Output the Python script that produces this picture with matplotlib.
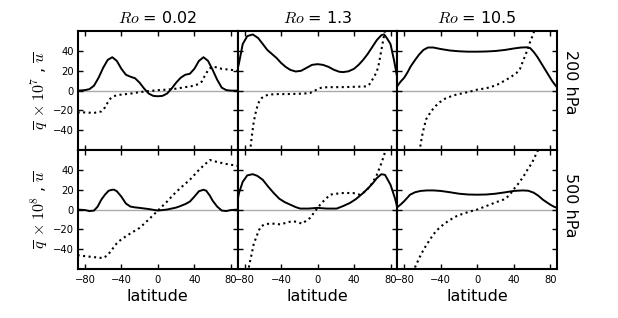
import matplotlib
matplotlib.use("Agg")
import matplotlib.pyplot as plt

plt.rcParams["mathtext.fontset"] = "cm"
plt.rcParams["font.family"] = ["DejaVu Sans"]

ro_labels = ["0.02", "1.3", "10.5"]
level_labels = ["200 hPa", "500 hPa"]

# ---- 200 hPa ----
lat_u200_a = [-88, -80, -75, -70, -65, -60, -55, -50, -45, -40, -35, -30, -25, -20, -15, -10, -5, 0,
              5, 10, 15, 20, 25, 30, 35, 40, 45, 50, 55, 60, 65, 70, 75, 80, 88]
u200_a = [0, 0.5, 1.5, 5, 13, 23, 31, 33.7, 30, 22, 16, 14, 12.5, 8, 2, -3, -5.3, -5.7,
          -5.3, -3, 2, 8, 13, 16, 17, 22, 30, 33.7, 30, 21, 11, 3, 0.5, 0, 0]
lat_q200_a = [-88, -80, -70, -62, -58, -55, -52, -48, -44, -40, -30, -20, -10, 0, 10, 20, 30, 40,
              44, 48, 52, 56, 60, 65, 70, 80, 88]
q200_a = [-22, -22, -22.5, -21, -17, -12, -8, -5.5, -4.5, -4, -3, -1.5, -0.5, 0.5, 1, 2, 3.5, 5,
          6.5, 9, 16, 22, 24, 23.5, 22, 21, 20]

lat_u200_b = [-88, -86, -82, -77, -71, -65, -60, -55, -50, -45, -40, -35, -30, -24, -18, -12, -6, 0,
              6, 12, 18, 24, 28, 34, 40, 45, 50, 55, 60, 65, 70, 73, 76, 80, 84, 88]
u200_b = [20, 28, 47, 55, 56.7, 53, 47, 41, 37, 33, 28, 24, 21, 19.3, 20, 23, 26, 26.7,
          26, 24, 21, 19, 18.7, 19.5, 22, 26, 31, 37, 44, 51, 56, 56.7, 53, 47, 30, 10]
lat_q200_b = [-74, -72, -70, -68, -66, -64, -61, -57, -53, -45, -35, -25, -15, -8, -3, 2, 6.5, 15,
              25, 35, 45, 54, 57, 59, 62, 65, 67, 69, 71, 73, 75]
q200_b = [-62, -46, -32, -23, -16, -11, -7.3, -5, -4, -3.5, -3.5, -3.3, -3, -2.3, 0, 2.5, 3.3, 3.5,
          3.5, 3.7, 4, 4.3, 6.5, 9.3, 14, 19.3, 26, 36, 46, 56, 66]

lat_u200_c = [-88, -84, -80, -76, -73, -68, -64, -59, -54, -48, -40, -30, -20, -10, 0, 10, 20, 30,
              40, 48, 54, 58, 62, 66, 70, 74, 78, 82, 86, 88]
u200_c = [4, 9, 13, 19, 24.3, 31, 36, 41, 43.5, 43.5, 42, 40.5, 39.7, 39.3, 39.3, 39.5, 40, 41,
          42.5, 43.5, 43.7, 43, 39, 34, 28, 22, 16, 10, 5, 3]
lat_q200_c = [-63, -62, -59.6, -56, -50.4, -45, -41, -35, -28, -22.7, -15, -8, 0, 7, 14, 22, 32, 38,
              43, 47, 50, 53, 55.6, 58, 61, 64]
q200_c = [-62, -54, -42, -29, -20.7, -15, -11.7, -8, -5.5, -4, -2.5, -1, 1, 2, 3.3, 6, 11, 14.5,
          17.7, 22, 29.3, 36, 42.7, 49, 56, 64]

# ---- 500 hPa ----
lat_u500_a = [-88, -80, -75, -70, -66, -62, -58, -54, -50, -48, -45, -40, -35, -30, -25, -20, -10, 0,
              10, 20, 24, 30, 35, 40, 45, 50, 53, 57, 60, 65, 70, 75, 80, 88]
u500_a = [0, -0.5, -1.5, -1, 3, 10, 15, 19, 20, 20, 18.5, 13, 6, 3, 2.2, 1.7, 0.5, -1,
          0, 2, 3.3, 5.5, 8, 13, 18.5, 20, 19, 14, 9, 3, -1, -1.5, -0.5, 0]
lat_q500_a = [-88, -80, -70, -60, -55, -50, -45, -40, -35, -30, -20, -10, 0, 10, 17, 25, 35, 45,
              52, 57, 65, 75, 88]
q500_a = [-46, -47, -48, -49, -46, -40, -34, -30, -27, -24, -18.5, -10, -1, 8, 15, 22, 30, 40,
          46, 50, 48, 46, 44]

lat_u500_b = [-88, -86, -82, -77, -71, -66, -60, -54, -48, -42, -36, -30, -24, -19, -10, 0, 10, 21,
              28, 35.6, 42, 50, 56, 61, 65, 70, 74, 80, 85, 88]
u500_b = [8, 17, 28, 34.5, 35.7, 34, 30, 23, 16.7, 11, 7.5, 5, 2.5, 1, 1, 1.7, 1, 1,
          3.5, 6.7, 10.5, 16.7, 22, 27, 31.7, 35.7, 35, 25, 11, 0]
lat_q500_b = [-76, -75, -72, -70, -66, -62.5, -58, -51.6, -45, -40.7, -35, -28, -22, -17, -12, -8, -3, 3,
              8, 14, 17.5, 28, 39, 46.5, 52, 57.5, 61, 65, 70, 73, 76]
q500_b = [-64, -56.7, -44, -35, -25, -17.3, -15, -14, -14.5, -15, -13.5, -11.7, -12.5, -14.3, -11, -8.3, -2, 5,
          10, 15, 15.7, 16.7, 16.7, 15, 18, 23.3, 28.3, 35, 46.7, 55, 65]

lat_u500_c = [-88, -84, -80, -76, -73.6, -68, -62, -55, -48, -40, -30, -20, -10, 0, 10, 20, 30, 40,
              50, 56, 62, 67, 72, 76, 80, 84, 88]
u500_c = [2, 5, 8.5, 12.5, 15, 17.5, 18.8, 19.3, 19.3, 18.8, 17.5, 16, 15.2, 15, 15.2, 16, 17.3, 18.8,
          19.3, 19, 17, 14, 10, 7.5, 5, 3, 1.5]
lat_q500_c = [-69, -68, -63, -58.5, -53, -48, -42, -37, -30, -22.7, -15, -8, 0, 7, 14, 21, 28.7, 35,
              39.6, 45, 50.5, 55, 60, 65, 70]
q500_c = [-64, -58, -48, -40, -32, -25, -19, -15, -10.5, -6.7, -4, -2, 0, 2.5, 5, 7.5, 10, 14,
          20, 26, 33, 40, 47, 56.7, 66]

u_lats = [[lat_u200_a, lat_u200_b, lat_u200_c], [lat_u500_a, lat_u500_b, lat_u500_c]]
u_vals = [[u200_a, u200_b, u200_c], [u500_a, u500_b, u500_c]]
q_lats = [[lat_q200_a, lat_q200_b, lat_q200_c], [lat_q500_a, lat_q500_b, lat_q500_c]]
q_vals = [[q200_a, q200_b, q200_c], [q500_a, q500_b, q500_c]]

ylabels = [r"$\overline{q}\;\times10^{7}$ , $\overline{u}$",
           r"$\overline{q}\;\times10^{8}$ , $\overline{u}$"]

fig, axes = plt.subplots(2, 3, figsize=(6.18, 3.18), dpi=100)
fig.subplots_adjust(left=0.126, right=0.901, bottom=0.154, top=0.902, wspace=0, hspace=0)

for r in range(2):
    for c in range(3):
        ax = axes[r, c]
        ax.axhline(0, color="#aaaaaa", lw=1.0, zorder=1)
        ax.plot(u_lats[r][c], u_vals[r][c], color="k", lw=1.4, zorder=3)
        ax.plot(q_lats[r][c], q_vals[r][c], color="k", lw=1.5, ls=":", zorder=3)
        ax.set_xlim(-87.7, 87.3)
        ax.set_ylim(-60, 60)
        ax.set_xticks([-80, -40, 0, 40, 80])
        ax.set_yticks([-40, -20, 0, 20, 40])
        ax.tick_params(direction="in", top=True, right=True, length=3.5, width=1, labelsize=7.2)
        ax.tick_params(axis="x", pad=4.5)
        ax.tick_params(axis="y", pad=3)
        for s in ax.spines.values():
            s.set_linewidth(1.5)
        if c > 0:
            ax.set_yticklabels([])
        else:
            ax.set_ylabel(ylabels[r], fontsize=11.5, labelpad=2)
        if r == 0:
            ax.set_xticklabels([])
            ax.set_title(r"$Ro$ = " + ro_labels[c], fontsize=11.5, pad=6)
        else:
            ax.set_xlabel("latitude", fontsize=11.5, labelpad=3)

fig.text(571 / 618, 1 - 82 / 318, level_labels[0], rotation=-90, ha="center", va="center", fontsize=11.5)
fig.text(571 / 618, 1 - 205 / 318, level_labels[1], rotation=-90, ha="center", va="center", fontsize=11.5)

fig.savefig("out.png", dpi=100)
